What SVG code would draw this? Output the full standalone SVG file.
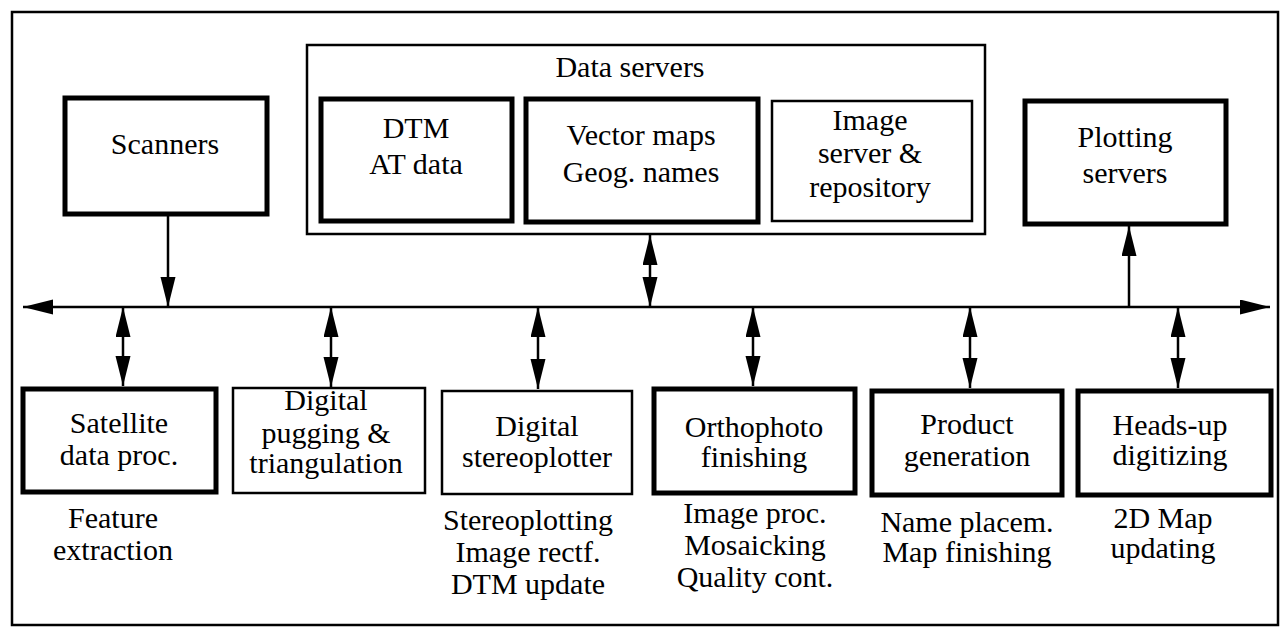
<svg xmlns="http://www.w3.org/2000/svg" width="1282" height="628" viewBox="0 0 1282 628">
<defs>
<marker id="ah" markerUnits="userSpaceOnUse" markerWidth="32" markerHeight="16" refX="30" refY="7.5" orient="auto-start-reverse">
<path d="M0,0 L30,7.5 L0,15 z" fill="#000"/>
</marker>
</defs>
<rect width="1282" height="628" fill="#fff"/>
<rect x="12" y="12" width="1266" height="613" fill="none" stroke="#000" stroke-width="2.5"/>

<g id="connectors" fill="none" stroke="#000" stroke-width="2.5">
<line x1="23" y1="307" x2="1270" y2="307" marker-start="url(#ah)" marker-end="url(#ah)"/>
<line x1="168" y1="215" x2="168" y2="307" marker-end="url(#ah)"/>
<line x1="1129" y1="307" x2="1129" y2="226" marker-end="url(#ah)"/>
<line x1="650" y1="235" x2="650" y2="307" marker-start="url(#ah)" marker-end="url(#ah)"/>
<line x1="123" y1="307" x2="123" y2="386" marker-start="url(#ah)" marker-end="url(#ah)"/>
<line x1="331" y1="307" x2="331" y2="387" marker-start="url(#ah)" marker-end="url(#ah)"/>
<line x1="538" y1="307" x2="538" y2="389" marker-start="url(#ah)" marker-end="url(#ah)"/>
<line x1="753" y1="307" x2="753" y2="386" marker-start="url(#ah)" marker-end="url(#ah)"/>
<line x1="970" y1="307" x2="970" y2="388" marker-start="url(#ah)" marker-end="url(#ah)"/>
<line x1="1178" y1="307" x2="1178" y2="388" marker-start="url(#ah)" marker-end="url(#ah)"/>
</g>

<g id="scanners">
<rect x="65" y="98" width="202" height="116" fill="#fff" stroke="#000" stroke-width="5"/>
<text x="165" y="154" font-family="Liberation Serif" font-size="30" text-anchor="middle">Scanners</text>
</g>

<g id="data-servers">
<rect x="307" y="45" width="678" height="189" fill="#fff" stroke="#000" stroke-width="2.5"/>
<text x="630" y="77" font-family="Liberation Serif" font-size="30" text-anchor="middle">Data servers</text>
</g>
<g id="dtm">
<rect x="321" y="99" width="191" height="122" fill="#fff" stroke="#000" stroke-width="5"/>
<text x="416" y="138" font-family="Liberation Serif" font-size="30" text-anchor="middle">DTM</text>
<text x="416" y="174" font-family="Liberation Serif" font-size="30" text-anchor="middle">AT data</text>
</g>
<g id="vector-maps">
<rect x="526" y="99" width="232" height="123" fill="#fff" stroke="#000" stroke-width="5"/>
<text x="641" y="145" font-family="Liberation Serif" font-size="30" text-anchor="middle">Vector maps</text>
<text x="641" y="182" font-family="Liberation Serif" font-size="30" text-anchor="middle">Geog. names</text>
</g>
<g id="image-server">
<rect x="772" y="101" width="200" height="120" fill="#fff" stroke="#000" stroke-width="2.5"/>
<text x="870" y="130" font-family="Liberation Serif" font-size="30" text-anchor="middle">Image</text>
<text x="870" y="163" font-family="Liberation Serif" font-size="30" text-anchor="middle">server &amp;</text>
<text x="870" y="197" font-family="Liberation Serif" font-size="30" text-anchor="middle">repository</text>
</g>

<g id="plotting-servers">
<rect x="1025" y="101" width="201" height="123" fill="#fff" stroke="#000" stroke-width="5"/>
<text x="1125" y="147" font-family="Liberation Serif" font-size="30" text-anchor="middle">Plotting</text>
<text x="1125" y="183" font-family="Liberation Serif" font-size="30" text-anchor="middle">servers</text>
</g>

<g id="satellite">
<rect x="23" y="389" width="193" height="103" fill="#fff" stroke="#000" stroke-width="5"/>
<text x="119" y="433" font-family="Liberation Serif" font-size="30" text-anchor="middle">Satellite</text>
<text x="119" y="465" font-family="Liberation Serif" font-size="30" text-anchor="middle">data proc.</text>
<text x="113" y="528" font-family="Liberation Serif" font-size="30" text-anchor="middle">Feature</text>
<text x="113" y="560" font-family="Liberation Serif" font-size="30" text-anchor="middle">extraction</text>
</g>

<g id="pugging">
<rect x="233" y="388" width="192" height="105" fill="#fff" stroke="#000" stroke-width="2.5"/>
<text x="326" y="410" font-family="Liberation Serif" font-size="30" text-anchor="middle">Digital</text>
<text x="326" y="443" font-family="Liberation Serif" font-size="30" text-anchor="middle">pugging &amp;</text>
<text x="326" y="473" font-family="Liberation Serif" font-size="30" text-anchor="middle">triangulation</text>
</g>

<g id="stereoplotter">
<rect x="442" y="391" width="190" height="103" fill="#fff" stroke="#000" stroke-width="2.5"/>
<text x="537" y="436" font-family="Liberation Serif" font-size="30" text-anchor="middle">Digital</text>
<text x="537" y="467" font-family="Liberation Serif" font-size="30" text-anchor="middle">stereoplotter</text>
<text x="528" y="530" font-family="Liberation Serif" font-size="30" text-anchor="middle">Stereoplotting</text>
<text x="528" y="562" font-family="Liberation Serif" font-size="30" text-anchor="middle">Image rectf.</text>
<text x="528" y="594" font-family="Liberation Serif" font-size="30" text-anchor="middle">DTM update</text>
</g>

<g id="orthophoto">
<rect x="654" y="389" width="201" height="104" fill="#fff" stroke="#000" stroke-width="5"/>
<text x="754" y="437" font-family="Liberation Serif" font-size="30" text-anchor="middle">Orthophoto</text>
<text x="754" y="467" font-family="Liberation Serif" font-size="30" text-anchor="middle">finishing</text>
<text x="755" y="523" font-family="Liberation Serif" font-size="30" text-anchor="middle">Image proc.</text>
<text x="755" y="555" font-family="Liberation Serif" font-size="30" text-anchor="middle">Mosaicking</text>
<text x="755" y="587" font-family="Liberation Serif" font-size="30" text-anchor="middle">Quality cont.</text>
</g>

<g id="product">
<rect x="872" y="391" width="190" height="104" fill="#fff" stroke="#000" stroke-width="5"/>
<text x="967" y="434" font-family="Liberation Serif" font-size="30" text-anchor="middle">Product</text>
<text x="967" y="466" font-family="Liberation Serif" font-size="30" text-anchor="middle">generation</text>
<text x="967" y="532" font-family="Liberation Serif" font-size="30" text-anchor="middle">Name placem.</text>
<text x="967" y="562" font-family="Liberation Serif" font-size="30" text-anchor="middle">Map finishing</text>
</g>

<g id="heads-up">
<rect x="1078" y="391" width="193" height="104" fill="#fff" stroke="#000" stroke-width="5"/>
<text x="1170" y="435" font-family="Liberation Serif" font-size="30" text-anchor="middle">Heads-up</text>
<text x="1170" y="465" font-family="Liberation Serif" font-size="30" text-anchor="middle">digitizing</text>
<text x="1163" y="528" font-family="Liberation Serif" font-size="30" text-anchor="middle">2D Map</text>
<text x="1163" y="558" font-family="Liberation Serif" font-size="30" text-anchor="middle">updating</text>
</g>
</svg>
